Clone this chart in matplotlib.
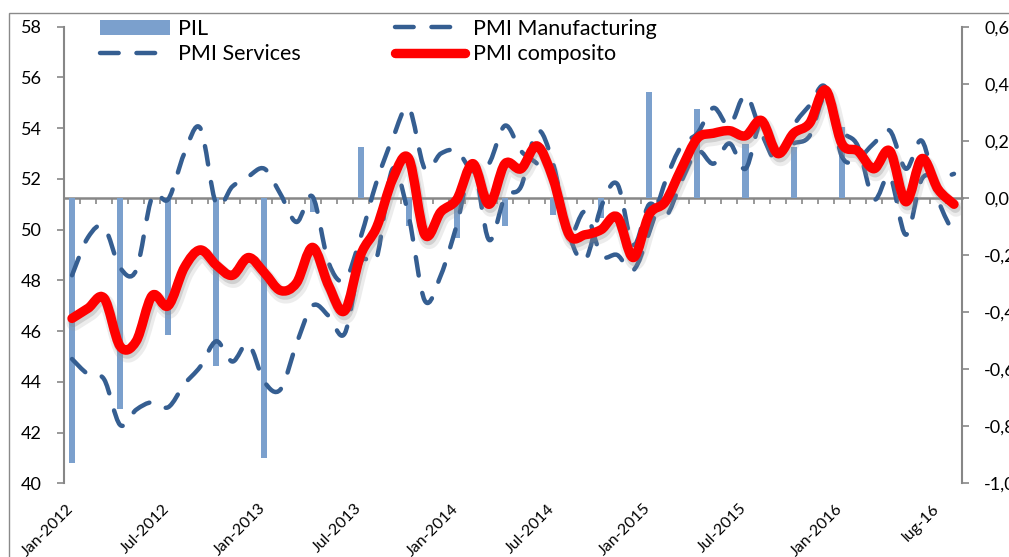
import matplotlib
matplotlib.use("Agg")
import matplotlib.pyplot as plt
import matplotlib.patheffects as pe
import matplotlib.transforms as mtransforms
from matplotlib.path import Path
from matplotlib.patches import PathPatch, Patch, Rectangle
from matplotlib.lines import Line2D
from matplotlib.ticker import FuncFormatter
import numpy as np

plt.rcParams['font.family'] = ['Lato', 'DejaVu Sans']

# monthly series, Jan 2012 - Aug 2016
pmi_manufacturing = [48.2, 49.7, 50.1, 48.5, 48.4, 51.3, 51.2, 53.0, 54.0, 51.0, 51.7, 52.1,
                     52.4, 51.4, 50.3, 51.3, 48.7, 48.0, 49.7, 51.9, 53.6, 54.8, 52.4, 53.0,
                     53.1, 52.3, 52.6, 54.1, 53.1, 52.6, 51.9, 49.8, 50.7, 49.0, 49.0, 48.4,
                     49.9, 51.9, 53.3, 53.8, 54.8, 54.1, 55.3, 53.8, 52.7, 54.1, 54.9, 55.6,
                     52.9, 52.8, 53.4, 53.9, 52.4, 53.5, 51.2, 49.8]
pmi_services = [44.9, 44.3, 44.1, 42.3, 42.9, 43.2, 43.0, 43.9, 44.6, 45.6, 44.8, 45.5,
                44.0, 43.7, 45.5, 47.0, 46.6, 45.9, 48.7, 48.9, 52.4, 50.5, 47.2, 48.2,
                50.2, 52.5, 49.6, 51.3, 51.7, 53.9, 52.6, 49.8, 48.8, 50.9, 51.8, 49.4,
                51.0, 50.5, 51.9, 53.1, 52.6, 53.4, 52.4, 54.3, 53.1, 53.4, 53.7, 55.3,
                53.9, 53.3, 51.2, 52.1, 49.8, 52.0, 52.0, 52.2]
pmi_composito = [46.5, 46.9, 47.3, 45.4, 45.6, 47.4, 47.0, 48.5, 49.2, 48.6, 48.2, 48.9,
                 48.3, 47.6, 47.9, 49.3, 47.8, 46.8, 49.0, 50.1, 52.0, 52.8, 49.8, 50.7,
                 51.2, 52.6, 51.0, 52.6, 52.4, 53.3, 52.0, 49.8, 49.8, 50.0, 50.5, 48.9,
                 50.6, 51.1, 52.4, 53.6, 53.8, 53.9, 53.7, 54.3, 53.0, 53.8, 54.2, 55.5,
                 53.4, 53.1, 52.4, 53.1, 51.1, 52.8, 51.6, 51.0]

# quarterly GDP growth (right axis), placed on first month of the quarter
pil_month = list(range(0, 52, 3))
pil = [-0.93, -0.74, -0.48, -0.59, -0.91, -0.05, 0.18, -0.10, -0.14,
       -0.10, -0.06, -0.07, 0.37, 0.31, 0.19, 0.18, 0.25, 0.0]

tick_pos = list(range(0, 56, 6))
tick_labels = ['Jan-2012', 'Jul-2012', 'Jan-2013', 'Jul-2013', 'Jan-2014',
               'Jul-2014', 'Jan-2015', 'Jul-2015', 'Jan-2016', 'lug-16']

GRAY = '#878787'
BLUE = '#355E91'
BAR = '#7BA0CD'
DASH = (0, (4.2, 4.0))


def smooth_path(values):
    # bezier curve through the points (Excel "smoothed line")
    pts = np.column_stack([np.arange(len(values), dtype=float), np.asarray(values, float)])
    n = len(pts)
    verts = [pts[0]]
    codes = [Path.MOVETO]
    for i in range(n - 1):
        p0, p1 = pts[max(i - 1, 0)], pts[i]
        p2, p3 = pts[i + 1], pts[min(i + 2, n - 1)]
        verts += [p1 + (p2 - p0) / 6, p2 - (p3 - p1) / 6, p2]
        codes += [Path.CURVE4] * 3
    return Path(verts, codes)


fig = plt.figure(figsize=(10.09, 5.57), dpi=100)
ax = fig.add_axes([64 / 1009, 1 - 483.3 / 557, 898 / 1009, 456.6 / 557])
ax2 = ax.twinx()
ax.set_zorder(2)
ax2.set_zorder(1)
ax.patch.set_visible(False)

# bars on the secondary axis
ax2.bar(pil_month, pil, width=0.38, color=BAR, zorder=1)
ax2.set_ylim(-1.0, 0.6)

# category axis crossing at 0 of the right axis
sec = ax2.secondary_xaxis(0, transform=ax2.transData)
sec.set_xticks(np.arange(-0.5, len(pmi_composito), 1.0))
sec.tick_params(axis='x', length=4, width=1.2, color=GRAY, labelbottom=False, labeltop=False)
for s in sec.spines.values():
    s.set_color(GRAY)
    s.set_linewidth(1.8)

for vals in (pmi_manufacturing, pmi_services):
    ax.add_patch(PathPatch(smooth_path(vals), fill=False, edgecolor=BLUE, lw=3.2,
                           linestyle=DASH, capstyle='round', joinstyle='round', zorder=3))

red = PathPatch(smooth_path(pmi_composito), fill=False, edgecolor='#FF0000', lw=6.8,
                capstyle='round', joinstyle='round', zorder=4)
red.set_path_effects([pe.Stroke(offset=(1.5, -3.5), linewidth=11, foreground='#999999', alpha=0.18),
                      pe.Stroke(offset=(1, -2.5), linewidth=7.5, foreground='#888888', alpha=0.28),
                      pe.Normal()])
ax.add_patch(red)

ax.set_xlim(-0.5, len(pmi_composito) - 0.5)
ax.set_ylim(40, 58)
ax.set_yticks(range(40, 59, 2))
ax.set_xticks(tick_pos)
ax.set_xticklabels(tick_labels, rotation=45, ha='right')
ax.tick_params(axis='x', length=0, labelsize=11.5, pad=13)
ax.tick_params(axis='y', direction='out', length=5, width=1.2, color=GRAY, labelsize=13, pad=11)
shift = mtransforms.ScaledTranslation(4 / 100, 0, fig.dpi_scale_trans)
for lbl in ax.get_xticklabels():
    lbl.set_transform(lbl.get_transform() + shift)

ax2.set_yticks(np.arange(-1.0, 0.61, 0.2))
ax2.yaxis.set_major_formatter(FuncFormatter(lambda v, p: f"{v:.1f}".replace('.', ',').replace('-0,0', '0,0')))
ax2.tick_params(axis='y', direction='out', length=5, width=1.2, color=GRAY, labelsize=13, pad=11)

for s in ['top', 'bottom', 'right']:
    ax.spines[s].set_visible(False)
for s in ['top', 'bottom', 'left']:
    ax2.spines[s].set_visible(False)
ax.spines['left'].set_color(GRAY)
ax.spines['left'].set_linewidth(1.5)
ax2.spines['right'].set_color(GRAY)
ax2.spines['right'].set_linewidth(1.5)

handles = [Patch(facecolor=BAR, edgecolor='none'),
           Line2D([], [], color=BLUE, lw=3.2, linestyle=DASH, dash_capstyle='round'),
           Line2D([], [], color=BLUE, lw=3.2, linestyle=DASH, dash_capstyle='round'),
           Line2D([], [], color='#FF0000', lw=6.8, solid_capstyle='round')]
labels = ['PIL', 'PMI Services', 'PMI Manufacturing', 'PMI composito']
fig.legend(handles, labels, ncol=2, loc='upper left', bbox_to_anchor=(100 / 1009, 1 - 19 / 557),
           frameon=False, borderpad=0, borderaxespad=0, handlelength=3.25, handletextpad=0.37,
           columnspacing=4.4, labelspacing=0.25, fontsize=15.5)

# chart area border
fig.add_artist(Rectangle((9 / 1009, -0.1), 1.2, 1.1 - 13 / 557, transform=fig.transFigure,
                         fill=False, edgecolor='#8a8a8a', lw=1))

fig.savefig('out.png', dpi=100)
